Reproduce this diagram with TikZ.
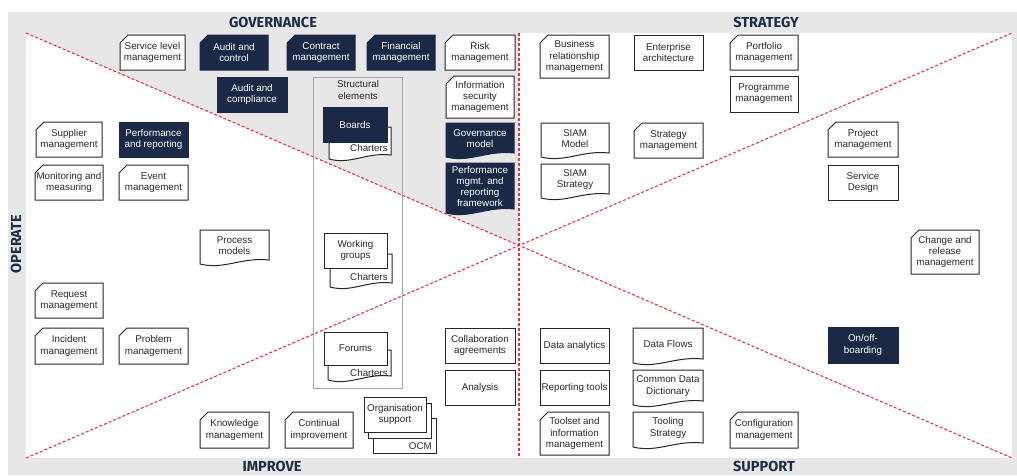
\documentclass[tikz,border=0pt]{standalone}
\usepackage{fontspec}
\setmainfont{Liberation Sans}
\newfontfamily\headfont{Fira Sans}

\definecolor{navy}{RGB}{27,40,70}
\definecolor{paper}{RGB}{231,231,231}
\definecolor{dashred}{RGB}{226,52,62}
\definecolor{ink}{RGB}{40,40,40}
\definecolor{headink}{RGB}{31,44,70}

\pgfdeclarelayer{back}
\pgfdeclarelayer{shapes}
\pgfsetlayers{back,shapes,main}

\tikzset{
  boxtext/.style={inner sep=0pt, align=center, font=\fontsize{9.8}{11.2}\selectfont},
  lttxt/.style={text=ink},
  dktxt/.style={text=white},
  ltbody/.style={draw=black!85, line width=1pt, fill=white, line join=miter},
  dkbody/.style={draw=navy, line width=1pt, fill=navy},
  hdr/.style={inner sep=0pt, text=headink, font=\headfont\bfseries\fontsize{14.5}{16}\selectfont},
  splitline/.style={draw=dashred, line width=1.1pt, dash pattern=on 3pt off 2pt},
  structframe/.style={draw=black!35, line width=0.7pt},
}

% #1 tone (lt/dk), #2 name, #3 left, #4 top, #5 right, #6 bottom, #7 text
\newcommand\plainbox[7]{%
  \node[boxtext,#1txt,minimum width={(#5-#3)*1pt},minimum height={(#6-#4)*1pt}]
    (#2) at ({(#3+#5)/2},{(#4+#6)/2}) {#7};
  \begin{pgfonlayer}{shapes}
    \path[#1body] (#3,#4) rectangle (#5,#6);
  \end{pgfonlayer}}

\newcommand\cutbox[7]{%
  \node[boxtext,#1txt,minimum width={(#5-#3)*1pt},minimum height={(#6-#4)*1pt}]
    (#2) at ({(#3+#5)/2},{(#4+#6)/2}) {#7};
  \begin{pgfonlayer}{shapes}
    \path[#1body] (#3,{#4+8}) -- ({#3+8},#4) -- (#5,#4) -- (#5,#6) -- (#3,#6) -- cycle;
  \end{pgfonlayer}}

\newcommand\wavebox[7]{%
  \node[boxtext,#1txt,minimum width={(#5-#3)*1pt},minimum height={(#6-#4-6)*1pt}]
    (#2) at ({(#3+#5)/2},{(#4+#6-6)/2}) {#7};
  \begin{pgfonlayer}{shapes}
    \path[#1body] (#3,#4) -- (#5,#4) -- (#5,{#6-7})
      .. controls ({#5-0.4*(#5-#3)},{#6-10}) and ({#3+0.35*(#5-#3)},{#6+3}) .. (#3,{#6-3}) -- cycle;
  \end{pgfonlayer}}

\begin{document}
\begin{tikzpicture}[x=1pt,y=-1pt]
\useasboundingbox (0,0) rectangle (1017,475);

% frame, quadrants and dividing lines
\coordinate (tl) at (26,33);
\coordinate (tr) at (1012,33);
\coordinate (bl) at (26,458);
\coordinate (br) at (1012,458);
\coordinate (top) at (519,33);
\coordinate (bot) at (519,458);
\coordinate (mid) at (519,245.5);
\begin{pgfonlayer}{back}
  \fill[paper] (8,12) rectangle (1017,475);
  \fill[white] (tl) rectangle (br);
  \fill[paper] (tl) -- (top) -- (mid) -- cycle;
  \draw[splitline] (tl) -- (br);
  \draw[splitline] (bl) -- (tr);
  \draw[splitline] (top) -- (bot);
\end{pgfonlayer}

% quadrant titles
\node[hdr] (gov) at (273,22) {GOVERNANCE};
\node[hdr] (strat) at (766,22) {STRATEGY};
\node[hdr] (impr) at (272,466) {IMPROVE};
\node[hdr] (supp) at (764,466) {SUPPORT};
\node[hdr, rotate=90] (oper) at (16,244) {OPERATE};

% governance
\cutbox{lt}{slm}{120}{35}{185}{70}{Service level\\management}
\cutbox{dk}{audc}{200}{35}{268}{70}{Audit and\\control}
\cutbox{dk}{contr}{287}{35}{355}{70}{Contract\\management}
\cutbox{dk}{fin}{367}{35}{435}{70}{Financial\\management}
\cutbox{lt}{risk}{445}{35}{515}{70}{Risk\\management}
\plainbox{dk}{audcomp}{217}{77}{287}{112}{Audit and\\compliance}
\cutbox{lt}{infosec}{446}{76}{514}{118}{Information\\security\\management}
\wavebox{dk}{govm}{446}{123}{514}{160}{Governance\\model}
\wavebox{dk}{perfm}{446}{163}{514}{216}{Performance\\mgmt. and\\reporting\\framework}

% structural elements
\node[structframe, minimum width=89pt, minimum height=311pt, inner sep=0pt] (struct) at (357.5,232.5) {};
\node[boxtext, lttxt] (structtitle) at (358,90) {Structural\\elements};
\wavebox{lt}{chb}{329}{127}{391}{162}{}
\node[boxtext, lttxt, anchor=east] (chbt) at (388,148) {Charters};
\plainbox{dk}{boards}{323}{107}{387}{142}{Boards}
\wavebox{lt}{chw}{330}{254}{392}{290}{}
\node[boxtext, lttxt, anchor=east] (chwt) at (388,277) {Charters};
\plainbox{lt}{wg}{324}{233}{387}{268}{Working\\groups}
\wavebox{lt}{chf}{328}{350}{391}{383}{}
\node[boxtext, lttxt, anchor=east] (chft) at (388,373) {Charters};
\plainbox{lt}{forums}{324}{332}{387}{365}{Forums}

% operate
\cutbox{lt}{suppm}{36}{122}{102}{157}{Supplier\\management}
\plainbox{dk}{perfrep}{119}{122}{188}{157}{Performance\\and reporting}
\cutbox{lt}{mon}{35}{165}{103}{200}{Monitoring and\\measuring}
\cutbox{lt}{event}{119}{165}{188}{200}{Event\\management}
\wavebox{lt}{procm}{200}{230}{269}{267}{Process\\models}
\cutbox{lt}{req}{35}{283}{103}{318}{Request\\management}
\cutbox{lt}{inc}{35}{328}{103}{364}{Incident\\management}
\cutbox{lt}{prob}{119}{328}{188}{364}{Problem\\management}

% improve
\cutbox{lt}{know}{200}{412}{269}{448}{Knowledge\\management}
\cutbox{lt}{cont}{285}{412}{353}{448}{Continual\\improvement}
\plainbox{lt}{ocm}{373}{418}{436}{453}{}
\node[boxtext, lttxt, anchor=east] (ocmt) at (432,446) {OCM};
\plainbox{lt}{orgb}{368}{403}{431}{438}{}
\plainbox{lt}{org}{364}{397}{426}{432}{Organisation\\support}
\plainbox{lt}{collab}{445}{328}{515}{363}{Collaboration\\agreements}
\plainbox{lt}{anal}{445}{370}{515}{405}{Analysis}

% strategy
\cutbox{lt}{brm}{540}{35}{609}{78}{Business\\relationship\\management}
\plainbox{lt}{ea}{634}{35}{703}{70}{Enterprise\\architecture}
\cutbox{lt}{port}{730}{35}{798}{70}{Portfolio\\management}
\plainbox{lt}{prog}{730}{76}{798}{112}{Programme\\management}
\wavebox{lt}{siamm}{541}{123}{609}{160}{SIAM\\Model}
\wavebox{lt}{siams}{541}{164}{609}{201}{SIAM\\Strategy}
\cutbox{lt}{stratm}{634}{123}{703}{158}{Strategy\\management}
\cutbox{lt}{proj}{828}{122}{898}{157}{Project\\management}
\plainbox{lt}{sd}{828}{165}{898}{200}{Service\\Design}
\cutbox{lt}{chg}{911}{230}{979}{274}{Change and\\release\\management}

% support
\plainbox{lt}{da}{540}{328}{609}{363}{Data analytics}
\plainbox{lt}{rt}{540}{370}{609}{405}{Reporting tools}
\cutbox{lt}{tool}{540}{412}{609}{455}{Toolset and\\information\\management}
\wavebox{lt}{df}{633}{328}{703}{366}{Data Flows}
\wavebox{lt}{cdd}{633}{370}{703}{408}{Common Data\\Dictionary}
\wavebox{lt}{tstrat}{633}{412}{703}{450}{Tooling\\Strategy}
\plainbox{dk}{onoff}{828}{327}{898}{363}{On/off-\\boarding}
\cutbox{lt}{conf}{730}{412}{798}{448}{Configuration\\management}
\end{tikzpicture}
\end{document}
